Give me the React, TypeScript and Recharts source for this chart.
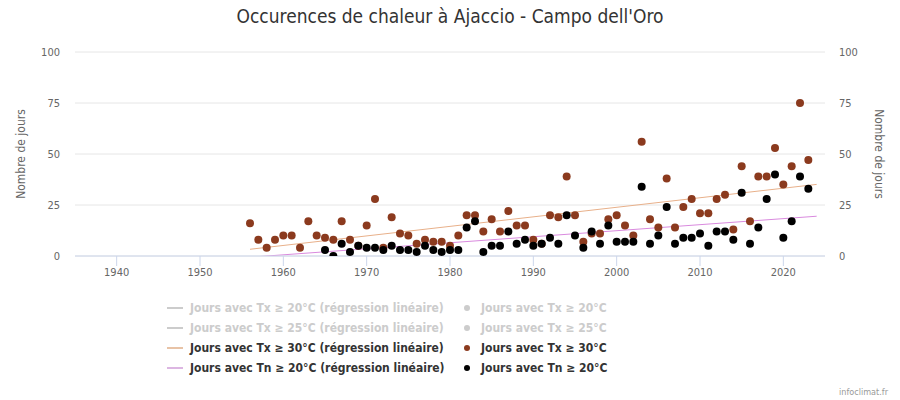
import React from 'react';
import { ComposedChart, Scatter, Line, XAxis, YAxis, CartesianGrid, Legend } from 'recharts';

const tx30Years = [1956,1957,1958,1959,1960,1961,1962,1963,1964,1965,1966,1967,1968,1969,1970,1971,1972,1973,1974,1975,1976,1977,1978,1979,1980,1981,1982,1983,1984,1985,1986,1987,1988,1989,1990,1991,1992,1993,1994,1995,1996,1997,1998,1999,2000,2001,2002,2003,2004,2005,2006,2007,2008,2009,2010,2011,2012,2013,2014,2015,2016,2017,2018,2019,2020,2021,2022,2023];
const tx30Values = [16,8,4,8,10,10,4,17,10,9,8,17,8,5,15,28,4,19,11,10,6,8,7,7,5,10,20,20,12,18,12,22,15,15,8,6,20,19,39,20,7,11,11,18,20,15,10,56,18,14,38,14,24,28,21,21,28,30,13,44,17,39,39,53,35,44,75,47];

const tn20Years = [1965,1966,1967,1968,1969,1970,1971,1972,1973,1974,1975,1976,1977,1978,1979,1980,1981,1982,1983,1984,1985,1986,1987,1988,1989,1990,1991,1992,1993,1994,1995,1996,1997,1998,1999,2000,2001,2002,2003,2004,2005,2006,2007,2008,2009,2010,2011,2012,2013,2014,2015,2016,2017,2018,2019,2020,2021,2022,2023];
const tn20Values = [3,0,6,2,5,4,4,3,5,3,3,2,5,3,2,3,3,14,17,2,5,5,12,6,8,5,6,9,6,20,10,4,12,6,15,7,7,7,34,6,10,24,6,9,9,11,5,12,12,8,31,6,14,28,40,9,17,39,33];

const trendYears = [1956, 2024];
const tx30TrendValues = [3.3, 35.1];
const tn20TrendValues = [-0.6, 19.5];

const xTicks = [1940,1950,1960,1970,1980,1990,2000,2010,2020];
const yTicks = [0,25,50,75,100];

const legendItems = [
  { kind: 'line', label: 'Jours avec Tx ≥ 20°C (régression linéaire)', color: '#cccccc', hidden: true },
  { kind: 'dot', label: 'Jours avec Tx ≥ 20°C', color: '#cccccc', hidden: true },
  { kind: 'line', label: 'Jours avec Tx ≥ 25°C (régression linéaire)', color: '#cccccc', hidden: true },
  { kind: 'dot', label: 'Jours avec Tx ≥ 25°C', color: '#cccccc', hidden: true },
  { kind: 'line', label: 'Jours avec Tx ≥ 30°C (régression linéaire)', color: '#e8c3a6', hidden: false },
  { kind: 'dot', label: 'Jours avec Tx ≥ 30°C', color: '#8b3a1e', hidden: false },
  { kind: 'line', label: 'Jours avec Tn ≥ 20°C (régression linéaire)', color: '#dcb6e2', hidden: false },
  { kind: 'dot', label: 'Jours avec Tn ≥ 20°C', color: '#000000', hidden: false },
];

const tx30Data = tx30Years.map((year, i) => ({ year, v: tx30Values[i] }));
const tn20Data = tn20Years.map((year, i) => ({ year, v: tn20Values[i] }));
const tx30Trend = trendYears.map((year, i) => ({ year, v: tx30TrendValues[i] }));
const tn20Trend = trendYears.map((year, i) => ({ year, v: tn20TrendValues[i] }));

const FONT = '"DejaVu Sans Condensed", "DejaVu Sans", sans-serif';

const makeDot = (color: string) => (props: any) => (
  <circle cx={props.cx} cy={props.cy} r={4} fill={color} />
);

const LegendContent = () => (
  <div style={{ position: 'relative', width: 900, height: 90, fontFamily: FONT, fontWeight: 'bold', fontSize: 12 }}>
    {legendItems.map((it, i) => {
      const row = Math.floor(i / 2);
      const col = i % 2;
      const top = row * 20;
      const left = col === 0 ? 166 : 462;
      return (
        <div key={i} style={{ position: 'absolute', top, left, height: 20, display: 'flex', alignItems: 'center', color: it.hidden ? '#cccccc' : '#333333', whiteSpace: 'nowrap' }}>
          {it.kind === 'line' ? (
            <svg width={24} height={20} style={{ display: 'block' }}>
              <line x1={1} y1={10} x2={17} y2={10} stroke={it.color} strokeWidth={2} />
            </svg>
          ) : (
            <svg width={19} height={20} style={{ display: 'block' }}>
              <circle cx={5} cy={10} r={3} fill={it.color} />
            </svg>
          )}
          <span>{it.label}</span>
        </div>
      );
    })}
  </div>
);

export default function App() {
  return (
    <div style={{ position: 'absolute', left: 0, top: 0, width: 900, height: 400, background: '#fff', fontFamily: FONT }}>
      <div style={{ position: 'absolute', left: 0, top: 5, width: 900, textAlign: 'center', fontSize: 19, color: '#333333', fontFamily: FONT }}>
        Occurences de chaleur à Ajaccio - Campo dell'Oro
      </div>
      <ComposedChart width={900} height={400} margin={{ top: 52, right: 0, bottom: 24, left: 0 }}>
        <CartesianGrid horizontal={true} vertical={false} stroke="#e6e6e6" yAxisId="left" />
        <XAxis
          dataKey="year"
          type="number"
          domain={[1935, 2025]}
          ticks={xTicks}
          allowDataOverflow
          height={30}
          axisLine={{ stroke: '#ccd6eb' }}
          tickLine={{ stroke: '#ccd6eb' }}
          tickSize={10}
          tickMargin={2}
          tick={{ fill: '#666666', fontSize: 11, fontFamily: FONT }}
        />
        <YAxis
          yAxisId="left"
          orientation="left"
          type="number"
          domain={[0, 100]}
          ticks={yTicks}
          allowDataOverflow
          width={75}
          axisLine={false}
          tickLine={false}
          tickSize={6}
          tickMargin={9}
          tick={{ fill: '#666666', fontSize: 11, fontFamily: FONT }}
          label={{ value: 'Nombre de jours', angle: -90, position: 'insideLeft', offset: 21, style: { textAnchor: 'middle', fill: '#666666', fontSize: 12, fontFamily: FONT } }}
        />
        <YAxis
          yAxisId="right"
          orientation="right"
          type="number"
          domain={[0, 100]}
          ticks={yTicks}
          allowDataOverflow
          width={75}
          axisLine={false}
          tickLine={false}
          tickSize={6}
          tickMargin={8}
          tick={{ fill: '#666666', fontSize: 11, fontFamily: FONT, textAnchor: 'start' }}
          label={{ value: 'Nombre de jours', angle: 90, position: 'insideRight', offset: 21, style: { textAnchor: 'middle', fill: '#666666', fontSize: 12, fontFamily: FONT } }}
        />
        <Line yAxisId="left" data={tx30Trend} dataKey="v" type="linear" stroke="#e8b08a" strokeWidth={1} dot={false} activeDot={false} isAnimationActive={false} legendType="none" />
        <Line yAxisId="left" data={tn20Trend} dataKey="v" type="linear" stroke="#d98ade" strokeWidth={1} dot={false} activeDot={false} isAnimationActive={false} legendType="none" />
        <Scatter yAxisId="left" data={tx30Data} dataKey="v" shape={makeDot('#8b3a1e')} isAnimationActive={false} />
        <Scatter yAxisId="left" data={tn20Data} dataKey="v" shape={makeDot('#000000')} isAnimationActive={false} />
        <Legend content={LegendContent} wrapperStyle={{ position: 'absolute', left: 0, top: 298, width: 900, height: 90 }} />
      </ComposedChart>
      <div style={{ position: 'absolute', right: 12, top: 387, fontSize: 9, color: '#999999', fontFamily: FONT }}>infoclimat.fr</div>
    </div>
  );
}
